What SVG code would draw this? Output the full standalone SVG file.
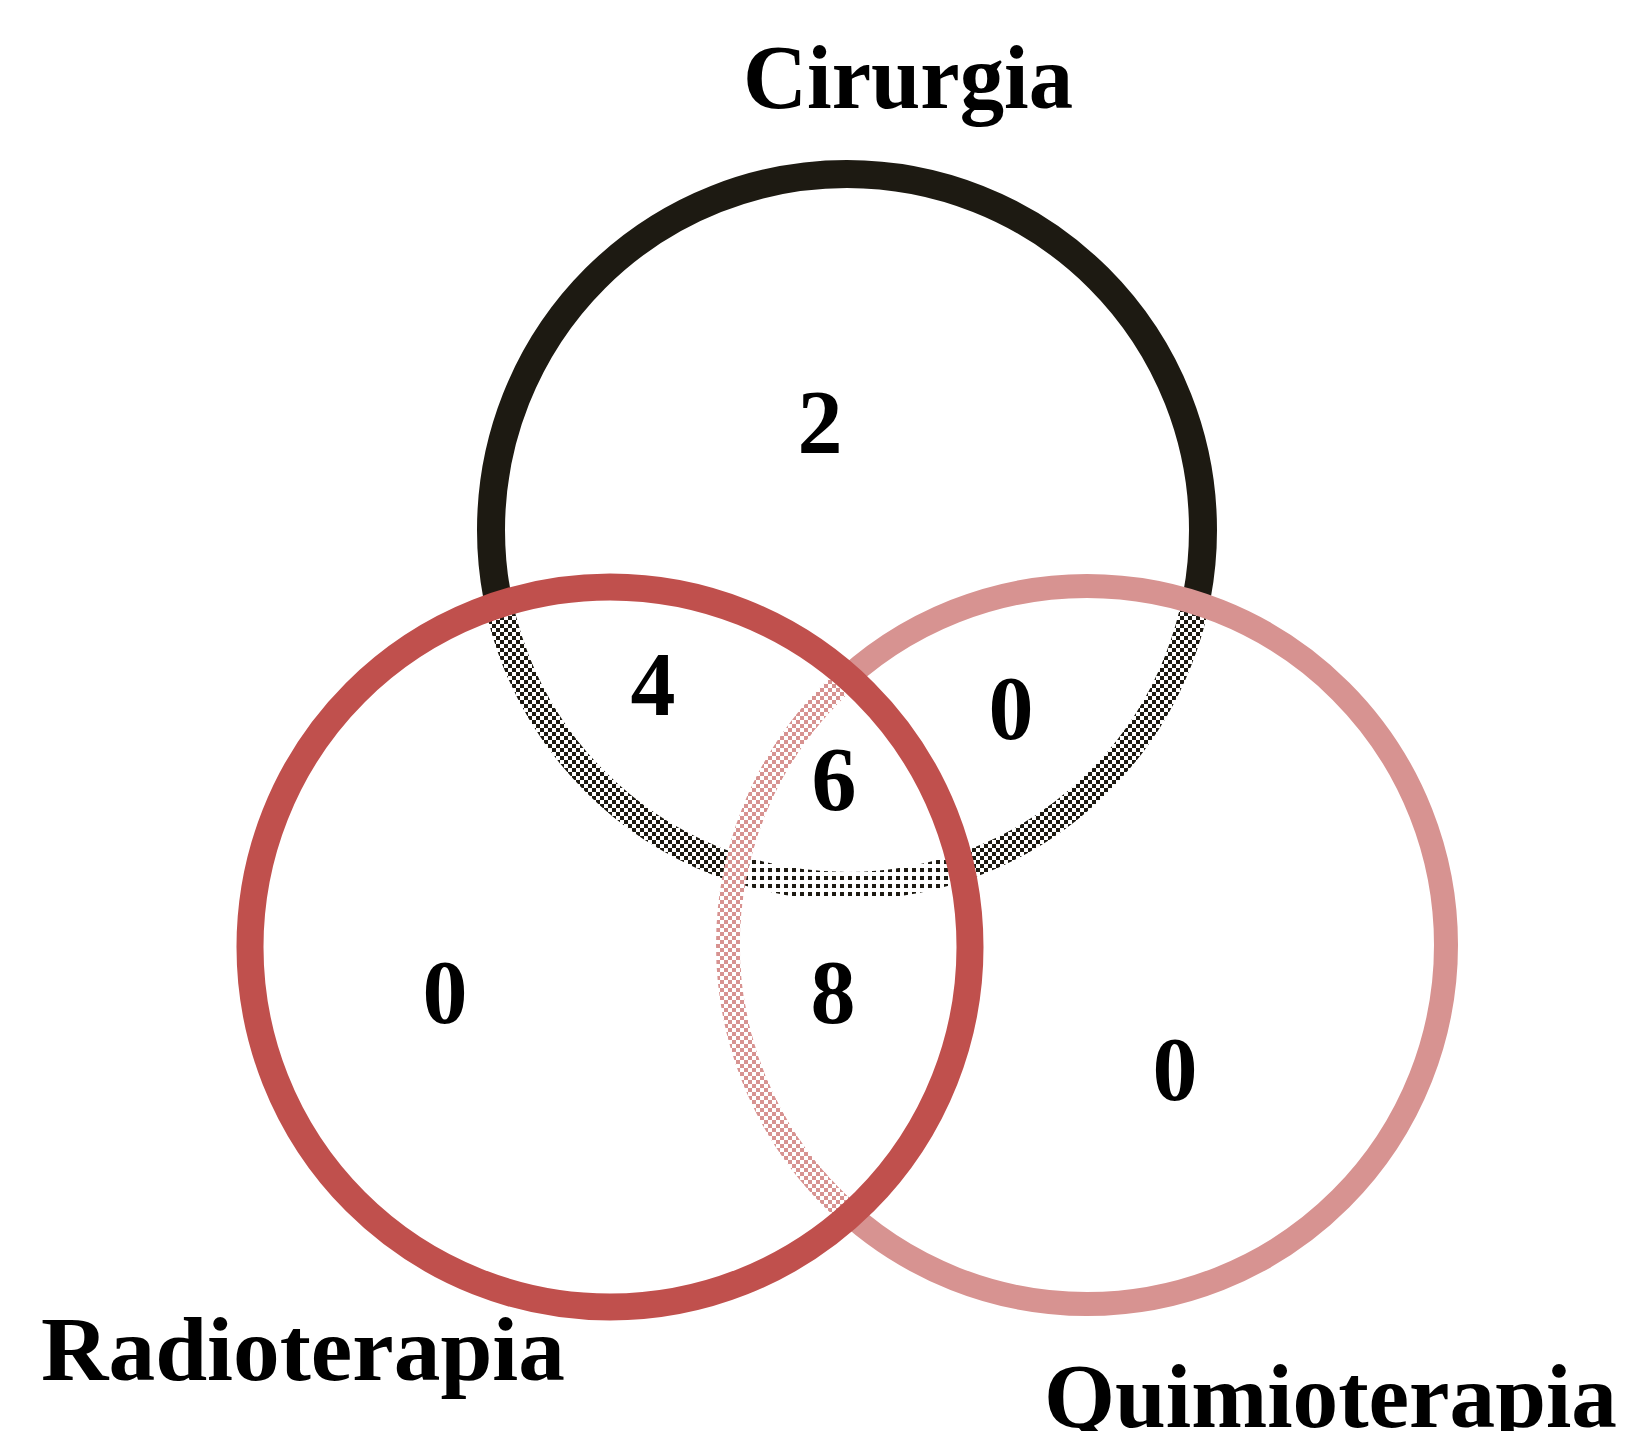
<svg xmlns="http://www.w3.org/2000/svg" width="1627" height="1431" viewBox="0 0 1627 1431">
<style>
.lbl{font-family:"Liberation Serif","Times New Roman",serif;font-weight:bold;font-size:92px;fill:#000}
.num{font-family:"Liberation Serif","Times New Roman",serif;font-weight:bold;font-size:90px;fill:#000;text-anchor:middle}
</style>
<defs>
<pattern id="veil" width="8" height="8" patternUnits="userSpaceOnUse"><rect x="0" y="0" width="4" height="4" fill="#fff"/><rect x="4" y="4" width="4" height="4" fill="#fff"/></pattern>
<pattern id="veil2" width="8" height="8" patternUnits="userSpaceOnUse"><rect x="4" y="0" width="4" height="4" fill="#fff"/></pattern>
<clipPath id="redDisk"><circle cx="610" cy="947" r="360"/></clipPath>
</defs>
<rect width="1627" height="1431" fill="#fff"/>
<g id="cirurgia">
<circle cx="847" cy="530" r="356" fill="none" stroke="#1d1a12" stroke-width="28"/>
<text class="lbl" x="743" y="108" textLength="330" lengthAdjust="spacingAndGlyphs">Cirurgia</text>
</g>
<g id="quimioterapia">
<circle cx="1087" cy="945" r="359" fill="url(#veil)" stroke="#d79391" stroke-width="24"/>
<text class="lbl" x="1044" y="1427" textLength="573" lengthAdjust="spacingAndGlyphs">Quimioterapia</text>
</g>
<g id="radioterapia">
<circle cx="610" cy="947" r="360" fill="url(#veil)"/>
<circle cx="1087" cy="945" r="347" fill="url(#veil2)" clip-path="url(#redDisk)"/>
<circle cx="610" cy="947" r="360" fill="none" stroke="#c0504d" stroke-width="27"/>
<text class="lbl" x="41" y="1380" textLength="524" lengthAdjust="spacingAndGlyphs">Radioterapia</text>
</g>
<g id="connectors"/>
<g id="counts">
<text class="num" x="820" y="453">2</text>
<text class="num" x="653" y="715">4</text>
<text class="num" x="1011" y="739">0</text>
<text class="num" x="834" y="810">6</text>
<text class="num" x="445" y="1023">0</text>
<text class="num" x="833" y="1023">8</text>
<text class="num" x="1175" y="1100">0</text>
</g>
</svg>
